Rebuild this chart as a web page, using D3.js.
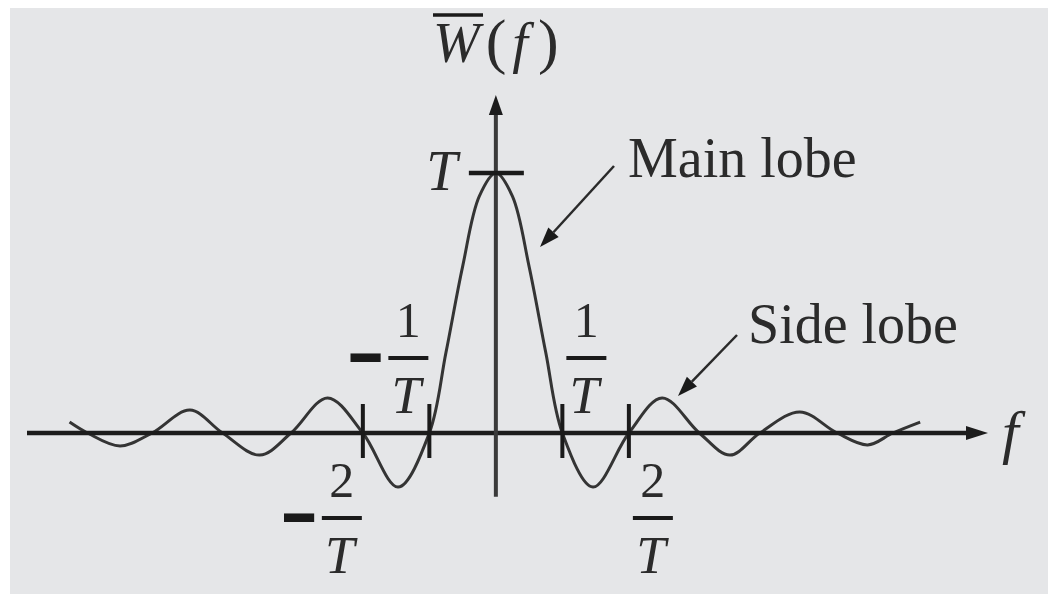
<!DOCTYPE html>
<html>
<head>
<meta charset="utf-8">
<script src="https://cdn.jsdelivr.net/npm/d3@7"></script>
<style>
  html, body { margin: 0; padding: 0; background: #ffffff; }
  svg { display: block; }
  text { font-family: "Liberation Serif", "DejaVu Serif", serif; fill: #2b2b2b; }
</style>
</head>
<body>
<svg id="chart" width="1048" height="594"></svg>
<script>
// Spectrum of a rectangular window: W(f) in units of T, f in units of 1/T
const freq = [-6.41, -6.14, -5.65, -5.17, -4.60, -4.11, -3.55, -3.08, -2.53, -2.0, -1.47, -1.0,
              -0.75, -0.5, -0.25, 0, 0.25, 0.5, 0.75,
              1.0, 1.46, 2.0, 2.50, 3.06, 3.52, 3.97, 4.57, 5.13, 5.59, 5.97, 6.38];
const amplitude = [0.042, 0, -0.05, 0, 0.088, 0, -0.085, 0, 0.135, 0, -0.208, 0,
                   0.31, 0.64, 0.91, 1, 0.91, 0.64, 0.31,
                   0, -0.208, 0, 0.135, 0, -0.085, 0, 0.081, 0, -0.046, 0, 0.042];

// Marked zero crossings and their labels
const zeroTicks = [-2, -1, 1, 2];
const tickNumerators = ["2", "1", "1", "2"];
const tickNegative = [true, true, false, false];
const tickDenominator = "T";
const peakValue = 1;
const peakLabel = "T";

const svg = d3.select("#chart");
const W = 1048, H = 594;

svg.append("rect").attr("x", 10).attr("y", 8).attr("width", W - 10).attr("height", H - 8)
  .attr("fill", "#e5e6e8");

const x = d3.scaleLinear().domain([-7.05, 7.4]).range([27, 988]);
const y = d3.scaleLinear().domain([-0.25, 1.3]).range([498, 95]);

const x0 = x(0), y0 = y(0);

// Curve
const pts = freq.map((f, i) => [f, amplitude[i]]);
const line = d3.line().x(d => x(d[0])).y(d => y(d[1])).curve(d3.curveCatmullRom.alpha(0.5));
svg.append("path").attr("d", line(pts)).attr("fill", "none")
  .attr("stroke", "#343434").attr("stroke-width", 3).attr("stroke-linejoin", "round");

// Horizontal axis with arrow
const xEnd = x.range()[1];
svg.append("line").attr("x1", x.range()[0]).attr("x2", xEnd - 14).attr("y1", y0).attr("y2", y0)
  .attr("stroke", "#1c1c1c").attr("stroke-width", 4.5);
svg.append("path")
  .attr("d", `M${xEnd},${y0} L${xEnd - 22},${y0 - 7} L${xEnd - 22},${y0 + 7} Z`)
  .attr("fill", "#1c1c1c");

// Vertical axis with arrow
const yTop = y.range()[1];
svg.append("line").attr("x1", x0).attr("x2", x0).attr("y1", y(-0.245)).attr("y2", yTop + 12)
  .attr("stroke", "#3a3a3a").attr("stroke-width", 4);
svg.append("path")
  .attr("d", `M${x0},${yTop} L${x0 - 7},${yTop + 20} L${x0 + 7},${yTop + 20} Z`)
  .attr("fill", "#1c1c1c");

// Peak tick
svg.append("line").attr("x1", x0 - 27).attr("x2", x0 + 28).attr("y1", y(peakValue)).attr("y2", y(peakValue))
  .attr("stroke", "#1a1a1a").attr("stroke-width", 4.5);
svg.append("text").attr("x", x0 - 54).attr("y", y(peakValue) + 17)
  .attr("text-anchor", "middle").attr("font-size", 56).attr("font-style", "italic").text(peakLabel);

// Zero-crossing ticks
svg.selectAll("line.zt").data(zeroTicks).join("line").attr("class", "zt")
  .attr("x1", d => x(d)).attr("x2", d => x(d)).attr("y1", y0 - 29).attr("y2", y0 + 25)
  .attr("stroke", "#1a1a1a").attr("stroke-width", 4);

// Fraction labels: +-n/T
zeroTicks.forEach((d, i) => {
  const above = Math.abs(d) === 1;
  const cx = x(d) + (d < 0 ? -21 : 24);
  const barY = above ? 358 : 518;
  const g = svg.append("g");
  g.append("text").attr("x", cx).attr("y", barY - 21).attr("text-anchor", "middle")
    .attr("font-size", 50).text(tickNumerators[i]);
  g.append("line").attr("x1", cx - 20).attr("x2", cx + 20).attr("y1", barY).attr("y2", barY)
    .attr("stroke", "#1a1a1a").attr("stroke-width", 4);
  g.append("text").attr("x", cx - 2).attr("y", barY + 55).attr("text-anchor", "middle")
    .attr("font-size", 53).attr("font-style", "italic").text(tickDenominator);
  if (tickNegative[i]) {
    g.append("text").attr("x", cx - 43).attr("y", barY + 17).attr("text-anchor", "middle")
      .attr("font-size", 52).attr("stroke", "#1a1a1a").attr("stroke-width", 6)
      .attr("fill", "#1a1a1a").text("\u2212");
  }
});

// Axis titles
const wt = svg.append("text").attr("x", 433).attr("y", 62).attr("font-size", 56);
wt.append("tspan").attr("font-style", "italic").text("W");
wt.append("tspan").attr("dx", 6).attr("font-size", 62).text("(");
wt.append("tspan").attr("dx", 6).attr("font-style", "italic").text("f");
wt.append("tspan").attr("dx", 10).attr("font-size", 62).text(")");
svg.append("line").attr("x1", 433).attr("x2", 483).attr("y1", 15).attr("y2", 15)
  .attr("stroke", "#1a1a1a").attr("stroke-width", 3.5);

svg.append("text").attr("x", 1002).attr("y", 452).attr("font-size", 60)
  .attr("font-style", "italic").text("f");

// Annotations
function arrow(x1, y1, x2, y2) {
  const a = Math.atan2(y2 - y1, x2 - x1), L = 20, w = 7;
  const bx = x2 - L * Math.cos(a), by = y2 - L * Math.sin(a);
  svg.append("line").attr("x1", x1).attr("y1", y1).attr("x2", bx).attr("y2", by)
    .attr("stroke", "#2a2a2a").attr("stroke-width", 2.5);
  svg.append("path").attr("d",
    `M${x2},${y2} L${bx - w * Math.sin(a)},${by + w * Math.cos(a)} L${bx + w * Math.sin(a)},${by - w * Math.cos(a)} Z`)
    .attr("fill", "#1a1a1a");
}
arrow(614, 166, 540, 247);
arrow(737, 335, 678, 396);

svg.append("text").attr("x", 628).attr("y", 177).attr("font-size", 56).text("Main lobe");
svg.append("text").attr("x", 748).attr("y", 343).attr("font-size", 56).text("Side lobe");
</script>
</body>
</html>
